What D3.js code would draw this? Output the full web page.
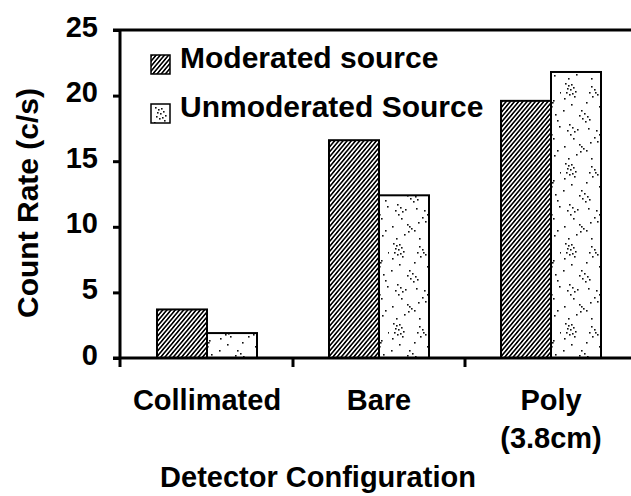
<!DOCTYPE html>
<html>
<head>
<meta charset="utf-8">
<script src="https://cdn.jsdelivr.net/npm/d3@7"></script>
<style>
  html, body { margin: 0; padding: 0; background: #fff; }
  svg { display: block; }
  text { font-family: "Liberation Sans", Arial, sans-serif; font-weight: bold; fill: #000; }
</style>
</head>
<body>
<svg id="chart" width="631" height="496"></svg>
<script>
// ---- data ----
const categories = ["Collimated", "Bare", "Poly (3.8cm)"];
const categoryLines = [["Collimated"], ["Bare"], ["Poly", "(3.8cm)"]];
const seriesNames = ["Moderated source", "Unmoderated Source"];
const moderated = [3.7, 16.6, 19.6];
const unmoderated = [1.9, 12.4, 21.8];
const yTicks = [0, 5, 10, 15, 20, 25];
const yTitle = "Count Rate (c/s)";
const xTitle = "Detector Configuration";

// ---- layout ----
const svg = d3.select("#chart");
const W = 631;
const x0 = 120, yTop = 30, yBase = 358;
const FS = 29;

const y = d3.scaleLinear().domain([0, 25]).range([yBase, yTop]);
const x = d3.scaleBand().domain(categories).range([121, 637]).padding(0);
const bw = x.bandwidth();
const xs = d3.scaleBand().domain(seriesNames).range([bw / 2 - 50, bw / 2 + 50]).padding(0);

// ---- patterns ----
const defs = svg.append("defs");
const hatch = defs.append("pattern")
  .attr("id", "hatch").attr("patternUnits", "userSpaceOnUse")
  .attr("width", 3.2).attr("height", 10)
  .attr("patternTransform", "rotate(40)");
hatch.append("rect").attr("width", 3.2).attr("height", 10).attr("fill", "#fff");
hatch.append("line").attr("x1", 0.8).attr("x2", 0.8).attr("y1", 0).attr("y2", 10)
  .attr("stroke", "#000").attr("stroke-width", 1.6);

// stipple texture (decorative dot positions within one tile)
const dotTile = [[4,3],[7,5],[10,4],[6,8],[9,9],[12,7],[5,12],[8,14],[11,13],[14,11],[3,18],
  [30,6],[33,9],[28,12],[36,14],[31,16],[25,22],[40,20],[38,26],[20,30],[23,33],[18,35],
  [26,36],[21,38],[24,41],[42,34],[44,40],[8,44],[11,47],[6,50],[13,51],[9,54],[16,49],
  [35,50],[38,54],[33,57],[40,58],[29,62],[3,66],[18,64],[22,68],[19,71],[25,70],[15,74],
  [44,70],[41,75],[30,78],[7,78],[46,46],[2,30],[47,12],[27,48],[13,16],[34,12],[28,39],
  [36,61],[12,58],[20,66],[39,22],[10,24]];
const stip = defs.append("pattern")
  .attr("id", "stipple").attr("patternUnits", "userSpaceOnUse")
  .attr("width", 48).attr("height", 80);
stip.append("rect").attr("width", 48).attr("height", 80).attr("fill", "#fff");
stip.selectAll("rect.d").data(dotTile).enter().append("rect").attr("class", "d")
  .attr("x", d => d[0]).attr("y", d => d[1]).attr("width", 1.6).attr("height", 1.6)
  .attr("fill", "#111");

const fills = { "Moderated source": "url(#hatch)", "Unmoderated Source": "url(#stipple)" };

// ---- bars ----
const rows = categories.map((c, i) => ({ cat: c, vals: [
  { s: seriesNames[0], v: moderated[i] },
  { s: seriesNames[1], v: unmoderated[i] }] }));

const g = svg.append("g");
const groups = g.selectAll("g.grp").data(rows).enter().append("g")
  .attr("transform", d => `translate(${x(d.cat)},0)`);
groups.selectAll("rect").data(d => d.vals).enter().append("rect")
  .attr("x", d => xs(d.s))
  .attr("width", xs.bandwidth())
  .attr("y", d => y(d.v))
  .attr("height", d => y(0) - y(d.v))
  .attr("fill", d => fills[d.s])
  .attr("stroke", "#000").attr("stroke-width", 2);

// ---- axes / frame ----
const axisStroke = 3;
svg.append("line").attr("x1", x0 - 7).attr("x2", W).attr("y1", y(25)).attr("y2", y(25))
  .attr("stroke", "#000").attr("stroke-width", axisStroke);
svg.append("line").attr("x1", x0 - 7).attr("x2", W).attr("y1", y(0)).attr("y2", y(0))
  .attr("stroke", "#000").attr("stroke-width", axisStroke);
const yAxis = d3.axisLeft(y).tickValues(yTicks).tickSize(7).tickPadding(0).tickFormat(d3.format("d"));
const yg = svg.append("g").attr("transform", `translate(${x0},0)`).call(yAxis);
yg.select(".domain").remove();
yg.selectAll(".tick line").attr("stroke", "#000").attr("stroke-width", axisStroke);
yg.selectAll(".tick text").remove();
yg.selectAll(".tick").append("text")
  .attr("x", -22).attr("y", -4)
  .attr("text-anchor", "end").attr("dominant-baseline", "central")
  .style("font-size", FS + "px")
  .text(d => d);
svg.append("line").attr("x1", x0).attr("x2", x0).attr("y1", y(25) - 1).attr("y2", y(0) + 9)
  .attr("stroke", "#000").attr("stroke-width", axisStroke);

const seps = categories.slice(1).map(c => x(c));
svg.selectAll("line.sep").data(seps).enter().append("line").attr("class", "sep")
  .attr("x1", d => d).attr("x2", d => d).attr("y1", y(0)).attr("y2", y(0) + 9)
  .attr("stroke", "#000").attr("stroke-width", axisStroke);

const lab = svg.selectAll("text.cat").data(categories).enter().append("text").attr("class", "cat")
  .attr("text-anchor", "middle")
  .style("font-size", FS + "px")
  .attr("transform", d => `translate(${x(d) + bw / 2},410)`);
lab.selectAll("tspan").data((d, i) => categoryLines[i]).enter().append("tspan")
  .attr("x", 0).attr("dy", (d, i) => i === 0 ? 0 : 38).text(d => d);

svg.append("text").attr("x", 318).attr("y", 487).attr("text-anchor", "middle")
  .style("font-size", FS + "px").text(xTitle);
svg.append("text").attr("transform", "translate(38,203) rotate(-90)").attr("text-anchor", "middle")
  .style("font-size", "30px").text(yTitle);

// ---- legend ----
const leg = svg.append("g");
const legItems = leg.selectAll("g").data(seriesNames).enter().append("g")
  .attr("transform", (d, i) => `translate(151,${55 + i * 49})`);
legItems.append("rect").attr("width", 19).attr("height", 19)
  .attr("fill", d => fills[d]).attr("stroke", "#000").attr("stroke-width", 1.5);
legItems.append("text").attr("x", 29).attr("y", 13).style("font-size", "30px").text(d => d);
</script>
</body>
</html>
